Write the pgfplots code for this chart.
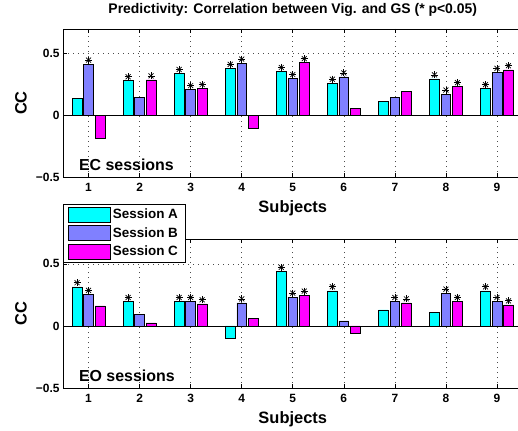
\documentclass[border=0pt]{standalone}
\usepackage{pgfplots}
\pgfplotsset{compat=1.18}
\usepackage{fontspec}
\setmainfont{Liberation Sans}

\definecolor{sesA}{rgb}{0,1,1}
\definecolor{sesB}{rgb}{0.5,0.5,1}
\definecolor{sesC}{rgb}{1,0,1}

% correlation per subject, EC and EO sessions
\pgfplotstableread{
subj A B C
1 0.140 0.415 -0.183
2 0.280 0.148 0.287
3 0.339 0.208 0.216
4 0.380 0.423 -0.107
5 0.355 0.298 0.426
6 0.260 0.311 0.057
7 0.112 0.148 0.191
8 0.295 0.172 0.232
9 0.216 0.347 0.369
}\ectab
\pgfplotstableread{
subj A B C
1 0.315 0.253 0.161
2 0.196 0.091 0.024
3 0.196 0.196 0.177
4 -0.102 0.185 0.059
5 0.438 0.231 0.247
6 0.282 0.040 -0.062
7 0.129 0.196 0.185
8 0.110 0.263 0.196
9 0.282 0.196 0.169
}\eotab
% significant ones (p<0.05), marker positions
\pgfplotstableread{
x y
1.000 0.448
1.775 0.313
2.225 0.320
2.775 0.372
3.000 0.241
3.225 0.249
3.775 0.413
4.000 0.456
4.775 0.388
5.000 0.331
5.225 0.459
5.775 0.293
6.000 0.344
7.775 0.328
8.000 0.205
8.225 0.265
8.775 0.249
9.000 0.380
9.225 0.402
}\ecstars
\pgfplotstableread{
x y
0.775 0.348
1.000 0.286
1.775 0.229
2.775 0.229
3.000 0.229
3.225 0.210
4.000 0.218
4.775 0.471
5.000 0.264
5.225 0.280
5.775 0.315
7.000 0.229
7.225 0.218
8.000 0.296
8.225 0.229
8.775 0.315
9.000 0.229
9.225 0.202
}\eostars

\pgfplotsset{
 panel/.style={
  scale only axis, width=459.5bp, height=148bp,
  xmin=0.5, xmax=9.5, ymin=-0.5, ymax=0.7,
  xtick={1,...,9}, xticklabels={1,2,3,4,5,6,7,8,9},
  ytick={-0.5,0,0.5}, yticklabels={−0.5,0,0.5},
  tick align=inside, major tick length=4bp,
  xmajorgrids, ymajorgrids, grid style={black!70, line width=0.6pt, dash pattern=on 0.6bp off 4.4bp},
  axis line style={line width=0.8pt},
  tick style={black, line width=0.6pt},
  ticklabel style={font=\fontsize{12}{14}\selectfont\bfseries},
  xticklabel style={yshift=-3bp},
  xlabel={Subjects}, ylabel={CC},
  label style={font=\fontsize{16.5}{18}\selectfont\bfseries},
  xlabel style={at={(0.5,0)}, anchor=center, yshift=-31bp},
  ylabel style={at={(0,0.5)}, anchor=center, yshift=42bp},
 },
 barlegend/.style={legend image code/.code={\draw[##1] (0bp,-7.5bp) rectangle (42bp,7.5bp);}},
 barA/.style={ybar, bar width=0.19, bar shift=-0.225, fill=sesA, draw=black, line width=0.6pt, barlegend},
 barB/.style={ybar, bar width=0.19, bar shift=0, fill=sesB, draw=black, line width=0.6pt, barlegend},
 barC/.style={ybar, bar width=0.19, bar shift=0.225, fill=sesC, draw=black, line width=0.6pt, barlegend},
 sig/.style={only marks, black, mark size=3.5bp, line width=0.7pt, forget plot},
}

\begin{document}
\begin{tikzpicture}[x=1bp,y=1bp]
\begin{axis}[panel, at={(63bp,253bp)}, anchor=south west,
  title={Predictivity: Correlation between Vig. and GS (* p<0.05)},
  title style={font=\fontsize{14}{16}\selectfont\bfseries, at={(0.5,1)}, anchor=base, yshift=10bp, inner sep=0pt}]
\addplot[barA] table[x=subj,y=A] {\ectab};
\addplot[barB] table[x=subj,y=B] {\ectab};
\addplot[barC] table[x=subj,y=C] {\ectab};
\addplot[black, line width=0.6pt, forget plot] coordinates {(0.5,0) (9.5,0)};
\addplot[sig, mark=+] table {\ecstars};
\addplot[sig, mark=x] table {\ecstars};
\node[anchor=west, inner sep=0pt, font=\fontsize{16}{18}\selectfont\bfseries] at (axis cs:0.81,-0.40) {EC sessions};
\end{axis}
\begin{axis}[panel, at={(63bp,42bp)}, anchor=south west, height=149bp,
  legend style={at={(0,1.235)}, anchor=north west, draw=black, line width=0.6pt, fill=white,
    font=\fontsize{13.5}{15}\selectfont\bfseries, row sep=3bp, inner xsep=5bp, inner ysep=2.5bp},
  legend cell align=left]
\addplot[barA] table[x=subj,y=A] {\eotab};
\addlegendentry{Session A}
\addplot[barB] table[x=subj,y=B] {\eotab};
\addlegendentry{Session B}
\addplot[barC] table[x=subj,y=C] {\eotab};
\addlegendentry{Session C}
\addplot[black, line width=0.6pt, forget plot] coordinates {(0.5,0) (9.5,0)};
\addplot[sig, mark=+] table {\eostars};
\addplot[sig, mark=x] table {\eostars};
\node[anchor=west, inner sep=0pt, font=\fontsize{16}{18}\selectfont\bfseries] at (axis cs:0.81,-0.40) {EO sessions};
\end{axis}
\pgfresetboundingbox
\path[use as bounding box] (0,0) rectangle (518,430);
\end{tikzpicture}
\end{document}
